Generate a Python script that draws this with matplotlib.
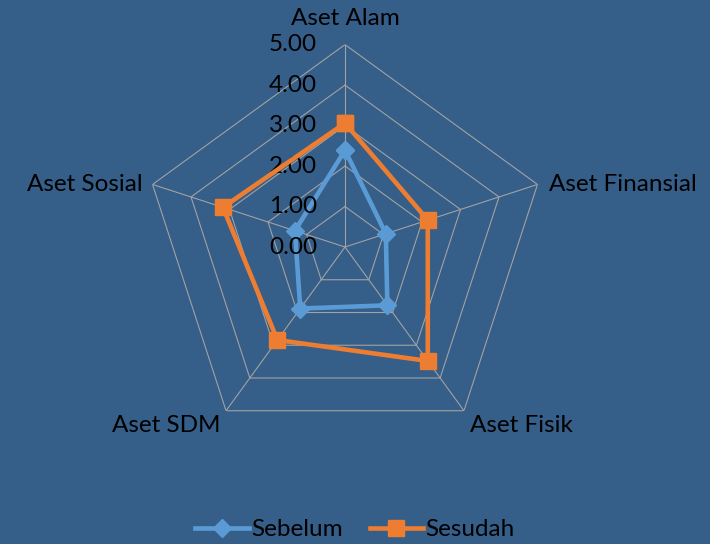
import numpy as np
import matplotlib
matplotlib.use("Agg")
import matplotlib.pyplot as plt

categories = ["Aset Alam", "Aset Finansial", "Aset Fisik", "Aset SDM", "Aset Sosial"]
sebelum = [2.39, 1.06, 1.78, 1.88, 1.30]
sesudah = [3.06, 2.15, 3.48, 2.84, 3.17]
rticks = [0, 1, 2, 3, 4, 5]
rtick_labels = ["0.00", "1.00", "2.00", "3.00", "4.00", "5.00"]

plt.rcParams['font.family'] = ['Lato', 'DejaVu Sans']
bg = "#355E88"
fs = 17.5
W, H = 710, 544
fig = plt.figure(figsize=(W / 100, H / 100), dpi=100, facecolor=bg)
cx, cy, R = 345, 247, 202.4
ax = fig.add_axes([(cx - R) / W, (H - cy - R) / H, 2 * R / W, 2 * R / H], projection="polar")
ax.set_facecolor(bg)
ax.patch.set_alpha(0)
ax.set_theta_zero_location("N")
ax.set_theta_direction(-1)
ax.set_ylim(0, 5)
ax.grid(False)
ax.spines["polar"].set_visible(False)
ax.set_xticks([])
ax.set_yticks([])

n = len(categories)
angles = np.arange(n) * 2 * np.pi / n
closed = np.append(angles, angles[0])
gc = "#A2A2A2"
for r in rticks[1:]:
    ax.plot(closed, [r] * (n + 1), color=gc, lw=0.8, zorder=1)
for a in angles:
    ax.plot([a, a], [0, 5], color=gc, lw=0.8, zorder=1)

ax.plot(closed, sebelum + sebelum[:1], color="#5B9BD5", lw=3.3, marker="D",
        markersize=9, label="Sebelum", zorder=3, clip_on=False)
ax.plot(closed, sesudah + sesudah[:1], color="#ED7D31", lw=3.3, marker="s",
        markersize=11.5, label="Sesudah", zorder=4, clip_on=False)

for r, lab in zip(rticks, rtick_labels):
    ax.annotate(lab, (0, r), xytext=(-20, 0), textcoords="offset points",
                ha="right", va="center", fontsize=fs, color="black",
                annotation_clip=False)

offsets = [((0, 11), "center", "bottom"),
           ((8, 0), "left", "center"),
           ((4, -3), "left", "top"),
           ((-4, -3), "right", "top"),
           ((-7, 0), "right", "center")]
for a, lab, (off, ha, va) in zip(angles, categories, offsets):
    ax.annotate(lab, (a, 5), xytext=off, textcoords="offset points",
                ha=ha, va=va, fontsize=fs, color="black", annotation_clip=False)

leg = fig.legend(loc="lower center", ncol=2, frameon=False, fontsize=fs,
                 bbox_to_anchor=(0.5, -0.033), handlelength=2.2, columnspacing=1.1,
                 handletextpad=0.1)
fig.savefig("out.png", dpi=100, facecolor=bg)
